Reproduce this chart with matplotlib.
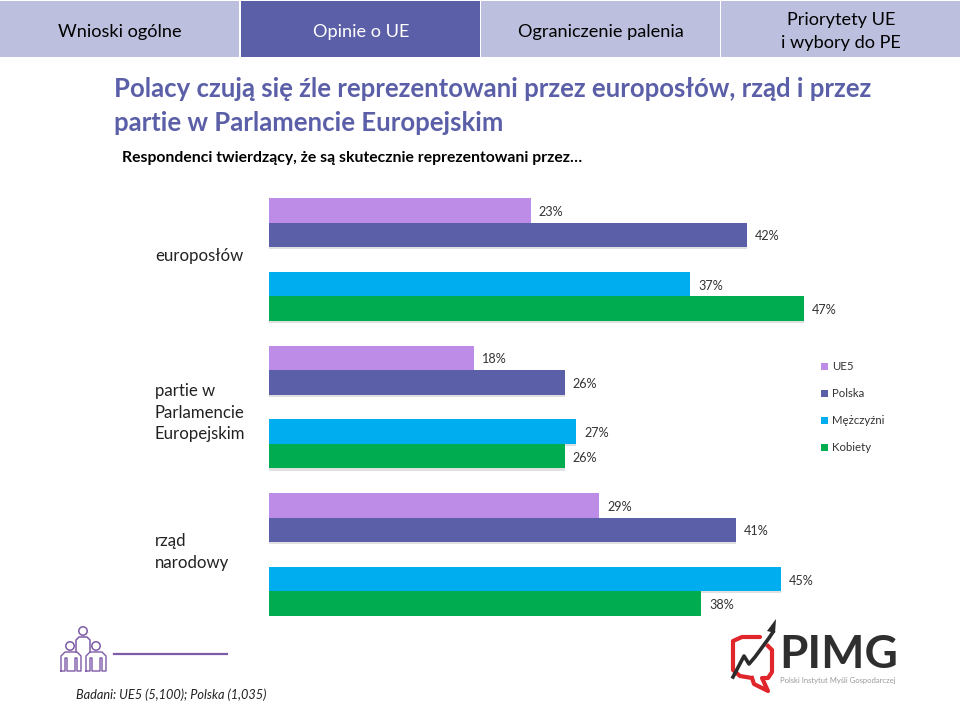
import matplotlib
matplotlib.use("Agg")
import matplotlib.pyplot as plt
import matplotlib.patheffects as pe
from matplotlib.patches import Rectangle, Circle, Polygon

plt.rcParams["font.family"] = ["Lato", "DejaVu Sans"]

# data
categories = ["europosłów", "partie w\nParlamencie\nEuropejskim", "rząd\nnarodowy"]
series = ["UE5", "Polska", "Mężczyźni", "Kobiety"]
ue5 = [23, 18, 29]
polska = [42, 26, 41]
mezczyzni = [37, 27, 45]
kobiety = [47, 26, 38]
tabs = ["Wnioski ogólne", "Opinie o UE", "Ograniczenie palenia", "Priorytety UE\ni wybory do PE"]

COLORS = ["#BC8CE6", "#5B5FA8", "#00AEEF", "#00AC50"]
LIGHT = "#BCBFDD"
DARK = "#5B5FA8"
SLOTS = [0, 1, 3, 4]  # blank slot between Polska and Mezczyzni
PX_PER_PCT = 11.38

fig = plt.figure(figsize=(9.6, 7.2), dpi=100, facecolor="white")

# bars
ax = fig.add_axes([269 / 960, (720 - 616) / 720, 691 / 960, 418 / 720])
ax.set_xlim(0, 691 / PX_PER_PCT)
ax.set_ylim(17, 0)
ax.axis("off")
shadow = [pe.SimplePatchShadow(offset=(0, -1.5), shadow_rgbFace="#999999", alpha=0.3), pe.Normal()]
for vals, slot, col, name in zip([ue5, polska, mezczyzni, kobiety], SLOTS, COLORS, series):
    ypos = [g * 6 + slot + 0.5 for g in range(3)]
    bars = ax.barh(ypos, vals, height=1.0, color=col, linewidth=0)
    for b in bars:
        b.set_path_effects(shadow)
    for y, v in zip(ypos, vals):
        ax.annotate(f"{v}%", (v, y), xytext=(8, -1.5), textcoords="offset pixels",
                    ha="left", va="center", fontsize=9.1, color="#333333")

# overlay in pixel coords for the slide furniture
ov = fig.add_axes([0, 0, 1, 1], facecolor="none")
ov.set_xlim(0, 960)
ov.set_ylim(720, 0)
ov.axis("off")

# nav tabs
for i, t in enumerate(tabs):
    x0 = 240 * i + (1 if i else 0)
    active = i == 1
    ov.add_patch(Rectangle((x0, 1), 239, 56, color=DARK if active else LIGHT, lw=0))
    ov.text(x0 + 120, 31.5, t, ha="center", va="center", fontsize=13.1, linespacing=1.55,
            color="white" if active else "black")

# title block
ov.text(114, 89, "Polacy czują się źle reprezentowani przez europosłów, rząd i przez",
        fontsize=18.5, color=DARK, va="center", fontweight="bold")
ov.text(114, 123, "partie w Parlamencie Europejskim", fontsize=18.5, color=DARK, va="center",
        fontweight="bold")
ov.text(122, 158, "Respondenci twierdzący, że są skutecznie reprezentowani przez…",
        fontsize=11.3, color="black", va="center", fontweight="bold")

# category labels
for cy, lab in zip([256, 412.5, 552], categories):
    ov.text(155, cy, lab, fontsize=12.1, color="#222222", va="center", ha="left", linespacing=1.45)

# legend
for y, col, name in zip([366, 393, 420, 447], COLORS, series):
    ov.add_patch(Rectangle((821, y - 3.5), 7, 7, color=col, lw=0))
    ov.text(832, y + 0.5, name, fontsize=8.2, va="center", color="#333333")

# people icon
ICON = "#7D5BA6"
for cx, cy in [(83, 631), (70, 646), (96, 646)]:
    ov.add_patch(Circle((cx, cy), 4.2, fc="white", ec=ICON, lw=1.1, zorder=3))
ov.plot([76, 76, 79, 87, 90, 90], [652, 640, 637, 637, 640, 652], color=ICON, lw=1.1)
for x0 in [61, 86]:
    xs = [x0, x0, x0 + 4, x0 + 16, x0 + 20, x0 + 20, x0 + 16, x0 + 16, x0 + 14, x0 + 14,
          x0 + 6, x0 + 6, x0 + 4, x0 + 4, x0]
    ys = [671, 656, 652, 652, 656, 671, 671, 658, 658, 671, 671, 658, 658, 671, 671]
    ov.plot(xs, ys, color=ICON, lw=1.0, zorder=2)
ov.plot([114, 227], [653.5, 653.5], color=ICON, lw=1.6)

ov.text(76, 695, "Badani: UE5 (5,100); Polska (1,035)", fontsize=9.15, style="italic",
        va="center", color="#222222")

# PIMG logo
RED = "#E0252B"
ov.plot([760, 742, 733, 733, 740, 752], [637, 637, 641, 670, 676, 678], color=RED, lw=3, solid_capstyle="round")
ov.plot([768, 772, 772, 768, 762, 768, 754, 752], [646, 650, 672, 678, 678, 691, 684, 678], color=RED, lw=3)
ov.plot([733, 744, 749, 755, 769, 773], [677, 656, 664, 657, 638, 632], color="#2b2b2b", lw=2.6)
ov.add_patch(Polygon([[767, 631], [776, 619], [775, 633]], color="#2b2b2b", lw=0))
ov.text(779, 655, "PIMG", fontsize=33, fontweight="bold", color="#2f2f2f", va="center", ha="left")
ov.text(780, 680, "Polski Instytut Myśli Gospodarczej", fontsize=5.5, color="#9a9a9a", va="center")

fig.savefig("out.png", dpi=100, facecolor="white")
